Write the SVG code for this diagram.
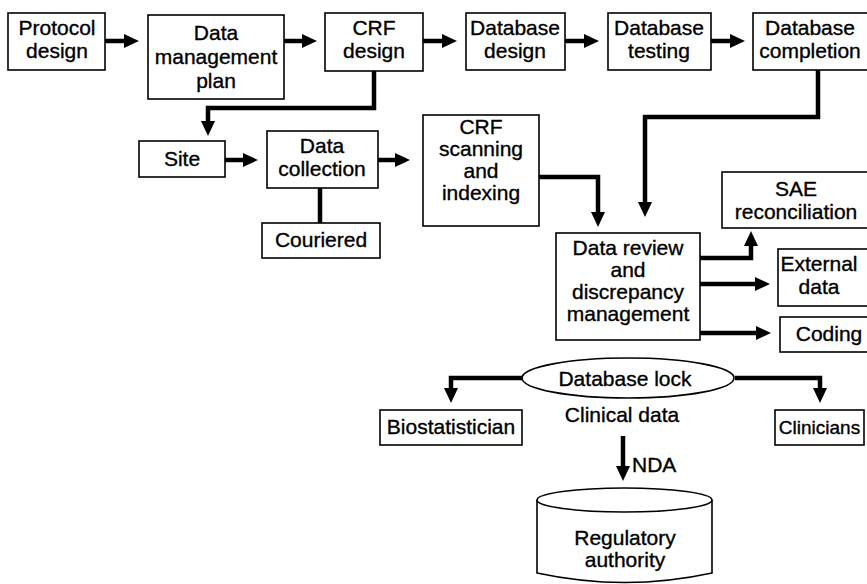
<svg xmlns="http://www.w3.org/2000/svg" width="867" height="584" viewBox="0 0 867 584">
  <style>
    .box { fill: #fff; stroke: #000; stroke-width: 1.6; }
    .lbl { font-family: "Liberation Sans", Arial, sans-serif; font-size: 21px; fill: #000; text-anchor: middle; stroke: #000; stroke-width: 0.35; }
    .link { fill: none; stroke: #000; stroke-width: 4.5; stroke-linejoin: miter; }
  </style>
  <defs>
    <marker id="head" markerUnits="userSpaceOnUse" markerWidth="16" markerHeight="16" viewBox="0 0 16 16" refX="2" refY="8" orient="auto">
      <path d="M0 1 L15 8 L0 15 Z" fill="#000"/>
    </marker>
  </defs>

  <rect width="867" height="584" fill="#fff"/>

  <!-- connectors -->
  <g id="connectors">
    <path class="link" d="M105 41 H126" marker-end="url(#head)"/>
    <path class="link" d="M284 41 H304" marker-end="url(#head)"/>
    <path class="link" d="M423 41 H444" marker-end="url(#head)"/>
    <path class="link" d="M565 41 H586" marker-end="url(#head)"/>
    <path class="link" d="M711 41 H732" marker-end="url(#head)"/>
    <path class="link" d="M374 71 V108 H208 V123" marker-end="url(#head)"/>
    <path class="link" d="M225 160 H245" marker-end="url(#head)"/>
    <path class="link" d="M378 160 H397" marker-end="url(#head)"/>
    <path class="link" d="M320 188 V223"/>
    <path class="link" d="M539 177 H598 V214" marker-end="url(#head)"/>
    <path class="link" d="M818 70 V117 H645 V204" marker-end="url(#head)"/>
    <path class="link" d="M700 258 H751 V244" marker-end="url(#head)"/>
    <path class="link" d="M700 284 H757" marker-end="url(#head)"/>
    <path class="link" d="M700 333 H758" marker-end="url(#head)"/>
    <path class="link" d="M522 378 H451 V390" marker-end="url(#head)"/>
    <path class="link" d="M735 378 H820 V390" marker-end="url(#head)"/>
    <path class="link" d="M623 436 V468" marker-end="url(#head)"/>
  </g>

  <g id="protocol-design">
    <rect class="box" x="8" y="13" width="97" height="57"/>
    <text class="lbl" x="57" y="35">Protocol</text>
    <text class="lbl" x="57" y="58">design</text>
  </g>
  <g id="data-management-plan">
    <rect class="box" x="148" y="15" width="136" height="84"/>
    <text class="lbl" x="216" y="40">Data</text>
    <text class="lbl" x="216" y="64">management</text>
    <text class="lbl" x="216" y="88">plan</text>
  </g>
  <g id="crf-design">
    <rect class="box" x="325" y="13" width="98" height="58"/>
    <text class="lbl" x="374" y="35">CRF</text>
    <text class="lbl" x="374" y="58">design</text>
  </g>
  <g id="database-design">
    <rect class="box" x="466" y="13" width="99" height="57"/>
    <text class="lbl" x="515" y="35">Database</text>
    <text class="lbl" x="515" y="58">design</text>
  </g>
  <g id="database-testing">
    <rect class="box" x="608" y="13" width="103" height="57"/>
    <text class="lbl" x="659" y="35">Database</text>
    <text class="lbl" x="659" y="58">testing</text>
  </g>
  <g id="database-completion">
    <rect class="box" x="753" y="13" width="118" height="57"/>
    <text class="lbl" x="810" y="35">Database</text>
    <text class="lbl" x="810" y="58">completion</text>
  </g>
  <g id="site">
    <rect class="box" x="139" y="141" width="86" height="36"/>
    <text class="lbl" x="182" y="166">Site</text>
  </g>
  <g id="data-collection">
    <rect class="box" x="267" y="131" width="111" height="57"/>
    <text class="lbl" x="322" y="153">Data</text>
    <text class="lbl" x="322" y="176">collection</text>
  </g>
  <g id="couriered">
    <rect class="box" x="262" y="223" width="118" height="35"/>
    <text class="lbl" x="321" y="247">Couriered</text>
  </g>
  <g id="crf-scanning">
    <rect class="box" x="423" y="115" width="116" height="111"/>
    <text class="lbl" x="481" y="134">CRF</text>
    <text class="lbl" x="481" y="156">scanning</text>
    <text class="lbl" x="481" y="178">and</text>
    <text class="lbl" x="481" y="200">indexing</text>
  </g>
  <g id="data-review">
    <rect class="box" x="556" y="233" width="144" height="107"/>
    <text class="lbl" x="628" y="255">Data review</text>
    <text class="lbl" x="628" y="277">and</text>
    <text class="lbl" x="628" y="299">discrepancy</text>
    <text class="lbl" x="628" y="321">management</text>
  </g>
  <g id="sae-reconciliation">
    <rect class="box" x="722" y="172" width="150" height="56"/>
    <text class="lbl" x="796" y="196">SAE</text>
    <text class="lbl" x="796" y="219">reconciliation</text>
  </g>
  <g id="external-data">
    <rect class="box" x="778" y="249" width="94" height="57"/>
    <text class="lbl" x="819" y="271">External</text>
    <text class="lbl" x="819" y="294">data</text>
  </g>
  <g id="coding">
    <rect class="box" x="780" y="317" width="92" height="35"/>
    <text class="lbl" x="829" y="341">Coding</text>
  </g>
  <g id="database-lock">
    <ellipse class="box" cx="628" cy="378" rx="106" ry="20"/>
    <text class="lbl" x="625" y="386">Database lock</text>
  </g>
  <g id="clinical-data">
    <text class="lbl" x="622" y="422">Clinical data</text>
  </g>
  <g id="nda">
    <text class="lbl" x="632" y="472" style="text-anchor:start">NDA</text>
  </g>
  <g id="biostatistician">
    <rect class="box" x="380" y="410" width="142" height="35"/>
    <text class="lbl" x="451" y="434">Biostatistician</text>
  </g>
  <g id="clinicians">
    <rect class="box" x="775" y="410" width="89" height="35"/>
    <text class="lbl" x="819.5" y="434" style="font-size:19px">Clinicians</text>
  </g>
  <g id="regulatory-authority">
    <path class="box" d="M537 500 V573 Q625 592 712 573 V500"/>
    <ellipse class="box" cx="624.5" cy="500" rx="87.5" ry="12"/>
    <text class="lbl" x="625" y="545">Regulatory</text>
    <text class="lbl" x="625" y="567">authority</text>
  </g>
</svg>
